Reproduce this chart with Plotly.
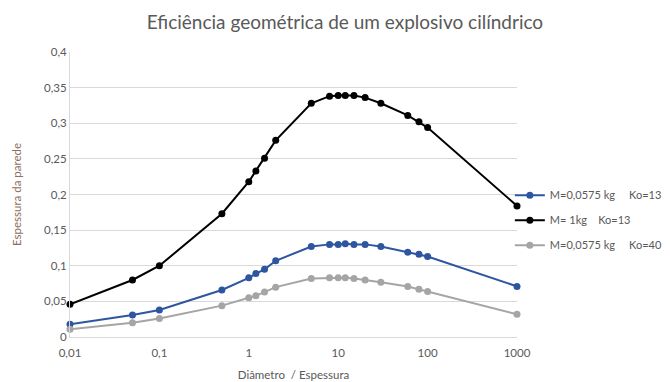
import plotly.graph_objects as go

x_vals = [0.01, 0.05, 0.1, 0.5, 1, 1.2, 1.5, 2, 5, 8, 10, 12, 15, 20, 30, 60, 80, 100, 1000]
blue_vals = [0.018, 0.031, 0.038, 0.066, 0.083, 0.089, 0.095, 0.107, 0.127, 0.130, 0.130, 0.131, 0.130, 0.130, 0.127, 0.119, 0.116, 0.113, 0.071]
black_vals = [0.046, 0.080, 0.100, 0.173, 0.218, 0.233, 0.251, 0.276, 0.328, 0.338, 0.339, 0.339, 0.339, 0.336, 0.328, 0.311, 0.302, 0.294, 0.184]
gray_vals = [0.011, 0.020, 0.026, 0.044, 0.055, 0.058, 0.063, 0.070, 0.082, 0.083, 0.083, 0.083, 0.082, 0.080, 0.077, 0.071, 0.067, 0.064, 0.032]

names = ["M=0,0575\u00a0kg\u00a0\u00a0\u00a0\u00a0\u00a0Ko=13",
         "M=\u00a01kg\u00a0\u00a0\u00a0\u00a0Ko=13",
         "M=0,0575\u00a0kg\u00a0\u00a0\u00a0\u00a0\u00a0Ko=40"]
colors = ["#2E55A0", "#000000", "#A5A5A5"]
x_tickvals = [0.01, 0.1, 1, 10, 100, 1000]
x_ticktext = ["0,01", "0,1", "1", "10", "100", "1000"]

fig = go.Figure()
for i, (name, ys, c) in enumerate(zip(names, [blue_vals, black_vals, gray_vals], colors)):
    fig.add_trace(go.Scatter(x=x_vals, y=ys, mode="lines+markers", name=name,
                             legendgroup=f"g{i}",
                             line=dict(color=c, width=2),
                             marker=dict(color=c, size=7),
                             cliponaxis=False))

font_fam = "Lato, Liberation Sans, Arial, sans-serif"
fig.update_layout(
    width=662, height=374,
    margin=dict(l=62, r=153, t=44, b=45, autoexpand=False),
    paper_bgcolor="white", plot_bgcolor="white",
    separators=",.",
    font=dict(family=font_fam, color="#595959", size=11),
    title=dict(text="Eficiência geométrica de um explosivo cilíndrico",
               x=0.509, xanchor="center", y=0.962, yanchor="middle",
               font=dict(size=19, color="#595959", family=font_fam)),
    legend=dict(x=0.984, xanchor="left", y=0.41, yanchor="middle",
                font=dict(size=11, color="#595959"), bgcolor="rgba(0,0,0,0)",
                tracegroupgap=6, itemwidth=30),
    showlegend=True,
)
fig.update_xaxes(type="log", range=[-2, 3], tickvals=x_tickvals, ticktext=x_ticktext,
                 showgrid=False, showline=True, linecolor="#D9D9D9", linewidth=1,
                 ticks="", zeroline=False, ticklabelstandoff=5, automargin=False,
                 tickfont=dict(size=11.5),
                 title=dict(text="Diâmetro  / Espessura", font=dict(size=11.5, color="#595959"), standoff=13))
fig.update_yaxes(range=[0, 0.4], dtick=0.05, showgrid=True, gridcolor="#D9D9D9",
                 showline=True, linecolor="#D9D9D9", zeroline=False, ticks="", automargin=False,
                 tickfont=dict(size=11.5),
                 title=dict(text="Espessura da parede", font=dict(size=11.5, color="#8C6E62"), standoff=20))

fig.write_html("out.html")
